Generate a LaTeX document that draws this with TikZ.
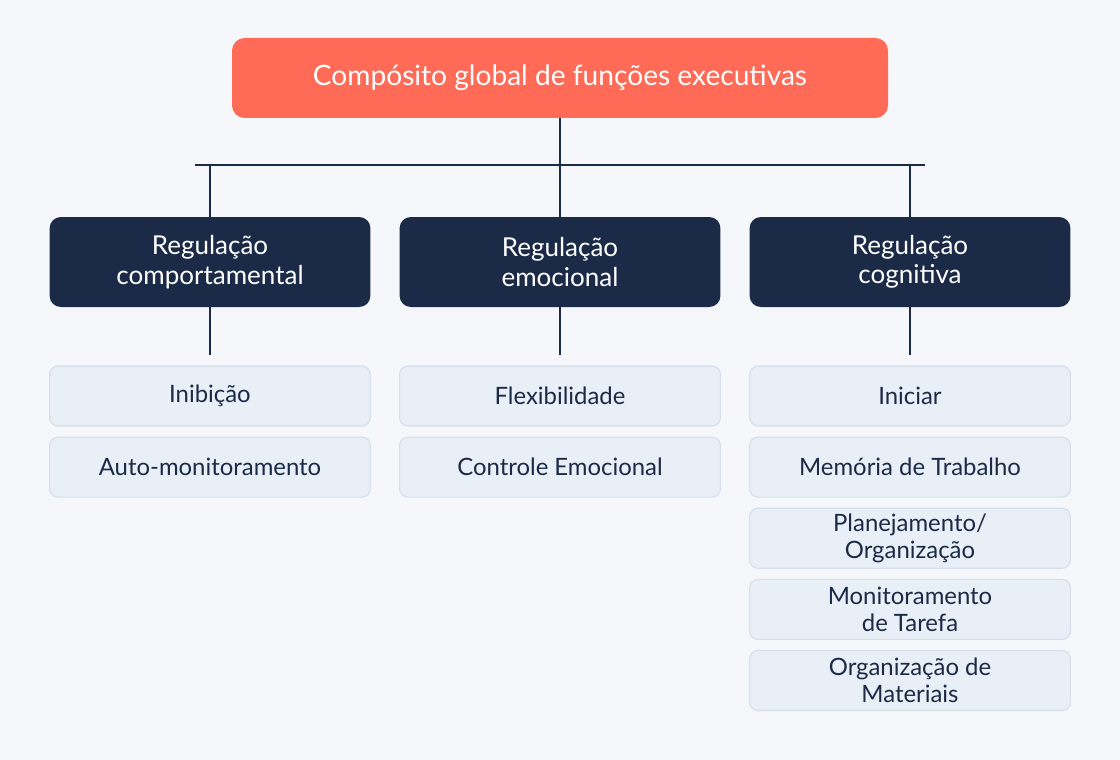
\documentclass[tikz,border=0pt]{standalone}
\usepackage{fontspec}
\setmainfont{Lato}
\usetikzlibrary{positioning}
\definecolor{bgc}{HTML}{F5F7FA}
\definecolor{topc}{HTML}{FF6B57}
\definecolor{navy}{HTML}{1B2A47}
\definecolor{itemc}{HTML}{E9EFF7}
\definecolor{itemb}{HTML}{D5DEEA}
\tikzset{
  topbox/.style={fill=topc, rounded corners=9pt, text=white, font=\fontsize{20}{24}\selectfont,
    minimum width=16.4cm, minimum height=2cm, inner sep=0pt},
  catbox/.style={fill=navy, rounded corners=8pt, text=white, font=\fontsize{18.5}{21}\selectfont,
    minimum width=8.02cm, minimum height=2.25cm, align=center, inner sep=0pt},
  itembox/.style={fill=itemc, draw=itemb, line width=0.8pt, rounded corners=6pt, text=navy,
    font=\fontsize{17}{19}\selectfont, minimum width=8.02cm, minimum height=1.5cm, align=center, inner sep=0pt},
  link/.style={draw=navy, line width=1.4pt}
}
\begin{document}
\begin{tikzpicture}
    \fill[bgc] (0,0) rectangle (28,-19);
    \useasboundingbox (0,0) rectangle (28,-19);
    \node[topbox] (top) at (14,-1.95) {Compósito global de funções executivas};
    % categories
    \node[catbox] (beh) at (5.25,-6.55) {Regulação\\comportamental};
    \node[catbox] (emo) at (14,-6.55) {Regulação\\emocional};
    \node[catbox] (cog) at (22.75,-6.55) {Regulação\\cognitiva};
    \coordinate (bl) at (4.875,-4.125);
    \coordinate (br) at (23.125,-4.125);
    \coordinate (bm) at (14,-4.125);
    \draw[link] (top.south) -- (bm);
    \draw[link] (bl) -- (br);
    \foreach \c in {beh,emo,cog}
      \draw[link] (\c.north |- bm) -- (\c.north);
    % items
    \node[itembox] (inib) at (5.25,-9.9) {Inibição};
    \node[itembox, below=0.25cm of inib] (auto) {Auto-monitoramento};
    \node[itembox] (flex) at (14,-9.9) {Flexibilidade};
    \node[itembox, below=0.25cm of flex] (ctrl) {Controle Emocional};
    \node[itembox] (ini) at (22.75,-9.9) {Iniciar};
    \node[itembox, below=0.25cm of ini] (mem) {Memória de Trabalho};
    \node[itembox, below=0.25cm of mem] (plan) {Planejamento/\\Organização};
    \node[itembox, below=0.25cm of plan] (mon) {Monitoramento\\de Tarefa};
    \node[itembox, below=0.25cm of mon] (mat) {Organização de\\Materiais};
    \foreach \c/\i in {beh/inib,emo/flex,cog/ini}
      \draw[link] (\c.south) -- ++(0,-1.2);
\end{tikzpicture}
\end{document}
